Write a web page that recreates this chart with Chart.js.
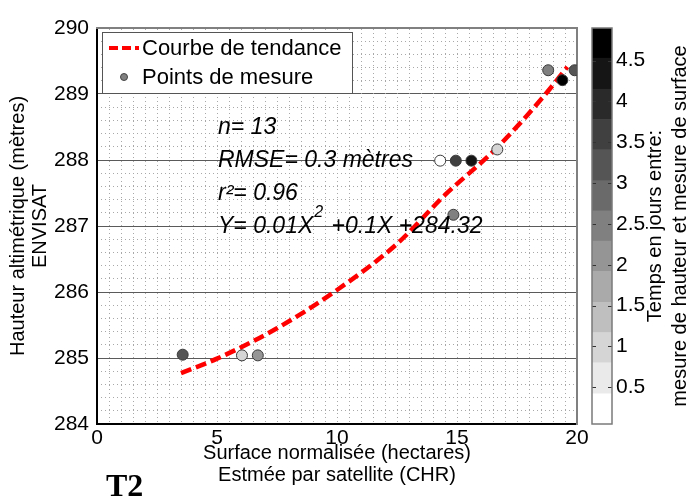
<!DOCTYPE html>
<html>
<head>
<meta charset="utf-8">
<script src="https://cdn.jsdelivr.net/npm/chart.js@4/dist/chart.umd.min.js"></script>
<style>
  html, body { margin: 0; padding: 0; background: #fff; }
  #wrap { position: relative; width: 691px; height: 497px; overflow: hidden; }
  canvas { position: absolute; top: 0; }
  #main { left: 0; }
  #bar { left: 580px; }
</style>
</head>
<body>
<div id="wrap">
  <canvas id="main" width="691" height="497"></canvas>
  <canvas id="bar" width="111" height="497"></canvas>
</div>
<script>
// measurement points (surface, height, days between the two measurements)
const PT_X = [3.57, 6.04, 6.70, 14.30, 14.95, 15.60, 16.68, 14.85, 18.80, 19.39, 19.90];
const PT_Y = [285.05, 285.04, 285.04, 287.99, 287.99, 287.99, 288.16, 287.17, 289.36, 289.21, 289.36];
const PT_DAYS = [3.2, 0.95, 2.1, 0.2, 3.6, 4.3, 1.0, 2.5, 2.5, 4.7, 3.2];

// trend curve
const TREND_X = [3.5, 5, 7.5, 10, 12.5, 14.5, 16.65, 18.6, 19.6];
const TREND_Y = [284.77, 284.99, 285.45, 286.03, 286.73, 287.47, 288.18, 288.96, 289.41];

const X_TICKS = [0, 5, 10, 15, 20];
const Y_TICKS = [284, 285, 286, 287, 288, 289, 290];
const CB_TICKS = [0.5, 1, 1.5, 2, 2.5, 3, 3.5, 4, 4.5];
const CB_EDGES = [0.05, 0.42, 0.80, 1.17, 1.54, 1.92, 2.29, 2.66, 3.03, 3.41, 3.78, 4.15, 4.53, 4.90];

const X_TITLE = ['Surface normalisée (hectares)', 'Estmée par satellite (CHR)'];
const Y_TITLE = ['Hauteur altimétrique (mètres)', 'ENVISAT'];
const CB_TITLE = ['Temps en jours entre:', 'mesure de hauteur et mesure de surface'];
const STATS = ['n= 13', 'RMSE= 0.3 mètres', 'r²= 0.96'];
const EQ = ['Y= 0.01X', '2', ' +0.1X +284.32'];
const PANEL = 'T2';

const FONT = "'Liberation Sans', Arial, sans-serif";

function grayOf(i) {
  const g = Math.round(255 * (1 - i / 12));
  return `rgb(${g},${g},${g})`;
}
function dayColor(d) {
  for (let i = 0; i < 13; i++) {
    if (d < CB_EDGES[i + 1]) return grayOf(i);
  }
  return grayOf(12);
}

// grid helpers
const minorX = [];
for (let i = 1; i < 40; i++) minorX.push(i * 0.5);
const minorY = [];
for (let i = 1; i < 30; i++) if (i % 5) minorY.push(284 + i * 0.2);

const extras = {
  id: 'extras',
  afterDraw(chart) {
    const ctx = chart.ctx;
    ctx.save();

    // legend box
    ctx.fillStyle = '#fff';
    ctx.fillRect(102, 32, 250, 61);
    ctx.strokeStyle = '#555';
    ctx.lineWidth = 1;
    ctx.strokeRect(102.5, 32.5, 250, 61);

    const trend = chart.data.datasets[1];
    const pts = chart.data.datasets[0];
    ctx.strokeStyle = trend.borderColor;
    ctx.lineWidth = 4;
    ctx.setLineDash([9, 4]);
    ctx.beginPath();
    ctx.moveTo(109, 48);
    ctx.lineTo(139, 48);
    ctx.stroke();
    ctx.setLineDash([]);
    ctx.fillStyle = '#808080';
    ctx.strokeStyle = '#444';
    ctx.lineWidth = 1;
    ctx.beginPath();
    ctx.arc(124, 77, 3.5, 0, Math.PI * 2);
    ctx.fill();
    ctx.stroke();

    ctx.fillStyle = '#000';
    ctx.font = `22px ${FONT}`;
    ctx.textBaseline = 'middle';
    ctx.textAlign = 'left';
    ctx.fillText(trend.label, 142, 49);
    ctx.fillText(pts.label, 142, 78);

    // statistics
    ctx.font = `italic 23px ${FONT}`;
    const ys = [128, 161, 194];
    STATS.forEach((t, i) => ctx.fillText(t, 218, ys[i]));
    let x = 218;
    ctx.fillText(EQ[0], x, 227);
    x += ctx.measureText(EQ[0]).width + 1;
    ctx.font = `italic 16px ${FONT}`;
    ctx.fillText(EQ[1], x, 213);
    x += ctx.measureText(EQ[1]).width + 2;
    ctx.font = `italic 23px ${FONT}`;
    ctx.fillText(EQ[2], x, 227);

    // panel label
    ctx.font = `bold 32px 'Liberation Serif', 'Times New Roman', serif`;
    ctx.textBaseline = 'alphabetic';
    ctx.fillText(PANEL, 106, 496);
    ctx.restore();
  }
};

new Chart(document.getElementById('main'), {
  type: 'scatter',
  data: {
    datasets: [
      {
        type: 'scatter',
        label: 'Points de mesure',
        data: PT_X.map((x, i) => ({ x, y: PT_Y[i] })),
        backgroundColor: PT_DAYS.map(dayColor),
        borderColor: '#3a3a3a',
        borderWidth: 1,
        pointRadius: 5.5,
        order: 1
      },
      {
        type: 'line',
        label: 'Courbe de tendance',
        data: TREND_X.map((x, i) => ({ x, y: TREND_Y[i] })),
        borderColor: '#ff0000',
        borderWidth: 4.5,
        borderDash: [11, 5],
        pointRadius: 0,
        fill: false,
        cubicInterpolationMode: 'monotone',
        order: 2
      }
    ]
  },
  options: {
    responsive: false,
    animation: false,
    devicePixelRatio: 1,
    layout: { padding: { top: 28, right: 114, bottom: 0, left: 0 } },
    plugins: { legend: { display: false }, tooltip: { enabled: false } },
    scales: {
      x: {
        type: 'linear', position: 'bottom', min: 0, max: 20,
        afterBuildTicks: s => { s.ticks = X_TICKS.map(v => ({ value: v })); },
        afterFit: s => { s.height = 73; },
        ticks: { font: { family: FONT, size: 21 }, color: '#000', padding: 2, maxRotation: 0 },
        grid: { drawOnChartArea: false, drawTicks: false },
        border: { color: '#000', width: 2 },
        title: {
          display: true, text: X_TITLE, color: '#000',
          font: { family: FONT, size: 20, lineHeight: 1.1 },
          padding: { top: 0, bottom: 11 }
        }
      },
      y: {
        type: 'linear', position: 'left', min: 284, max: 290,
        afterBuildTicks: s => { s.ticks = Y_TICKS.map(v => ({ value: v })); },
        afterFit: s => { s.width = 97; },
        ticks: { font: { family: FONT, size: 21 }, color: '#000', padding: 8 },
        grid: { color: '#5a5a5a', lineWidth: 1, drawTicks: false },
        border: { color: '#000', width: 2 },
        title: {
          display: true, text: Y_TITLE, color: '#000',
          font: { family: FONT, size: 20, lineHeight: 1.1 },
          padding: { top: 7, bottom: 0 }
        }
      },
      xm: {
        type: 'linear', position: 'top', min: 0, max: 20,
        afterBuildTicks: s => { s.ticks = minorX.map(v => ({ value: v })); },
        afterFit: s => { s.height = 0; },
        ticks: { display: false },
        grid: { color: '#a8a8a8', lineWidth: 1, drawTicks: false },
        border: { color: '#808080', width: 2, dash: [1, 3] }
      },
      ym: {
        type: 'linear', position: 'right', min: 284, max: 290,
        afterBuildTicks: s => { s.ticks = minorY.map(v => ({ value: v })); },
        afterFit: s => { s.width = 0; },
        ticks: { display: false },
        grid: { color: '#a8a8a8', lineWidth: 1, drawTicks: false },
        border: { color: '#808080', width: 2, dash: [1, 3] }
      }
    }
  },
  plugins: [extras]
});

const cbFrame = {
  id: 'cbFrame',
  afterDraw(chart) {
    const ctx = chart.ctx;
    const a = chart.chartArea;
    const y = chart.scales.y;
    ctx.save();
    ctx.strokeStyle = '#333';
    ctx.lineWidth = 1;
    CB_TICKS.forEach(v => {
      const p = Math.round(y.getPixelForValue(v)) + 0.5;
      ctx.beginPath();
      ctx.moveTo(a.left, p); ctx.lineTo(a.left + 4, p);
      ctx.moveTo(a.right - 4, p); ctx.lineTo(a.right, p);
      ctx.stroke();
    });
    ctx.strokeStyle = '#7a7a7a';
    ctx.lineWidth = 1.5;
    ctx.strokeRect(a.left, a.top, a.right - a.left, a.bottom - a.top);

    ctx.fillStyle = '#000';
    ctx.font = `20px ${FONT}`;
    ctx.textAlign = 'center';
    ctx.textBaseline = 'middle';
    const cy = (a.top + a.bottom) / 2;
    [75, 100].forEach((cx, i) => {
      ctx.save();
      ctx.translate(cx, cy);
      ctx.rotate(-Math.PI / 2);
      ctx.fillText(CB_TITLE[i], 0, 0);
      ctx.restore();
    });
    ctx.restore();
  }
};

new Chart(document.getElementById('bar'), {
  type: 'bar',
  data: {
    labels: [''],
    datasets: CB_EDGES.slice(0, -1).map((lo, i) => ({
      data: [[lo, CB_EDGES[i + 1]]],
      backgroundColor: grayOf(i),
      borderWidth: 0,
      barPercentage: 1,
      categoryPercentage: 1,
      grouped: false
    }))
  },
  options: {
    responsive: false,
    animation: false,
    devicePixelRatio: 1,
    layout: { padding: { left: 12, top: 28, bottom: 73, right: 0 } },
    plugins: { legend: { display: false }, tooltip: { enabled: false } },
    scales: {
      x: { display: false },
      y: {
        position: 'right', min: CB_EDGES[0], max: CB_EDGES[CB_EDGES.length - 1],
        afterBuildTicks: s => { s.ticks = CB_TICKS.map(v => ({ value: v })); },
        afterFit: s => { s.width = 79; },
        ticks: { font: { family: FONT, size: 21 }, color: '#000', padding: 4, callback: v => String(v) },
        grid: { drawOnChartArea: false, drawTicks: false },
        border: { display: false }
      }
    }
  },
  plugins: [cbFrame]
});
</script>
</body>
</html>
